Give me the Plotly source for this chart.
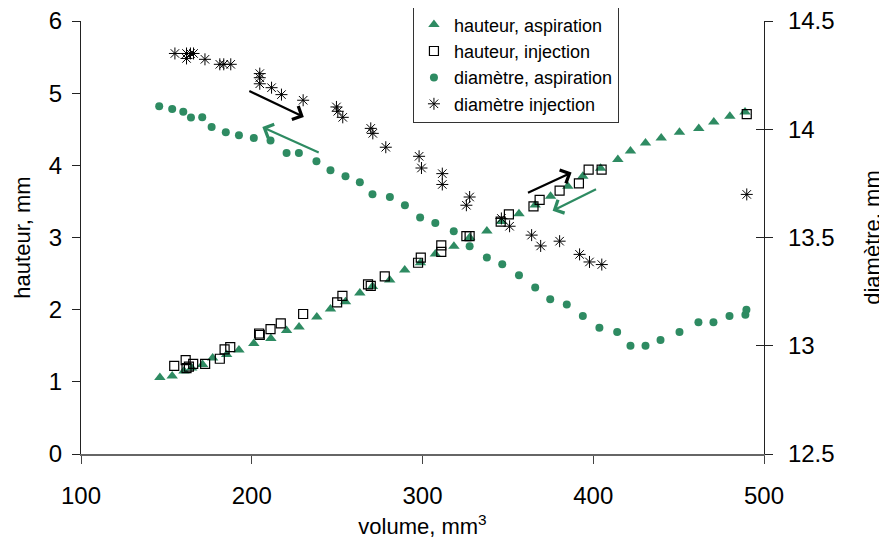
import plotly.graph_objects as go

GREEN = "#2E8B62"
FONT = "Liberation Sans, Arial, sans-serif"

# hauteur, aspiration (left axis)
h_asp_x = [146.2, 153.4, 160.3, 164.8, 171.2, 177.1, 185.3, 192.5, 201.2, 211.2,
           220.4, 227.7, 238.1, 246.1, 254.9, 263.3, 270.7, 280.8, 289.6, 298.8,
           307.5, 318.4, 327.6, 337.7, 346.2, 356.5, 366.0, 375.0, 385.1, 393.9,
           404.3, 414.4, 421.8, 430.6, 439.8, 450.5, 461.8, 470.6, 480.0, 488.9]
h_asp_y = [1.06, 1.08, 1.15, 1.19, 1.24, 1.33, 1.38, 1.44, 1.53, 1.60,
           1.71, 1.76, 1.90, 2.01, 2.11, 2.23, 2.32, 2.41, 2.55, 2.65,
           2.77, 2.88, 3.00, 3.09, 3.22, 3.33, 3.45, 3.57, 3.71, 3.85,
           3.96, 4.08, 4.20, 4.31, 4.38, 4.46, 4.51, 4.60, 4.68, 4.74]

# hauteur, injection (left axis)
h_inj_x = [154.6, 161.3, 161.8, 163.2, 165.7, 172.7, 181.3, 184.1, 187.4, 204.3,
           204.7, 211.0, 217.0, 230.1, 250.0, 253.1, 268.1, 269.7, 277.9, 297.4,
           299.0, 311.0, 311.0, 325.7, 327.6, 345.8, 350.6, 365.0, 368.6, 380.3,
           391.6, 397.3, 404.9, 489.9]
h_inj_y = [1.22, 1.30, 1.19, 1.21, 1.25, 1.25, 1.32, 1.45, 1.48, 1.67,
           1.65, 1.73, 1.81, 1.94, 2.10, 2.19, 2.35, 2.33, 2.46, 2.65,
           2.72, 2.80, 2.89, 3.02, 3.02, 3.22, 3.32, 3.43, 3.52, 3.65,
           3.75, 3.94, 3.94, 4.71]

# diamètre, aspiration (right axis)
d_asp_x = [145.8, 153.4, 159.9, 164.4, 171.0, 176.5, 184.8, 192.5, 201.2, 211.0,
           220.4, 227.6, 237.9, 246.1, 254.9, 263.3, 270.7, 280.9, 289.7, 298.6,
           307.5, 318.3, 327.6, 337.7, 346.7, 356.5, 366.0, 374.8, 384.5, 393.9,
           403.6, 414.0, 421.8, 430.6, 439.4, 450.5, 461.6, 470.4, 479.8, 489.1, 489.7]
d_asp_y = [14.106, 14.094, 14.081, 14.054, 14.055, 14.010, 13.986, 13.972, 13.960, 13.948,
           13.890, 13.890, 13.852, 13.811, 13.783, 13.755, 13.700, 13.687, 13.649, 13.592,
           13.567, 13.529, 13.460, 13.408, 13.377, 13.326, 13.269, 13.215, 13.191, 13.137,
           13.083, 13.064, 13.000, 13.000, 13.026, 13.064, 13.109, 13.109, 13.137, 13.143, 13.166]

# diamètre injection (right axis)
d_inj_x = [155.0, 161.8, 164.1, 165.9, 161.8, 172.6, 181.3, 183.6, 187.7, 204.7,
           204.7, 204.7, 211.6, 217.4, 230.1, 249.6, 250.4, 253.3, 269.7, 270.9,
           278.5, 298.0, 299.4, 311.6, 311.6, 325.7, 327.6, 346.2, 351.0, 363.9,
           369.2, 380.3, 392.0, 397.8, 405.0, 489.9]
d_inj_y = [14.350, 14.350, 14.350, 14.350, 14.327, 14.323, 14.300, 14.300, 14.300, 14.257,
           14.238, 14.210, 14.192, 14.160, 14.134, 14.103, 14.083, 14.055, 14.004, 13.981,
           13.917, 13.875, 13.821, 13.795, 13.745, 13.649, 13.687, 13.588, 13.552, 13.511,
           13.461, 13.483, 13.422, 13.387, 13.375, 13.699]

x_ticks = [100, 200, 300, 400, 500]
y_ticks = [0, 1, 2, 3, 4, 5, 6]
y2_ticks = [12.5, 13, 13.5, 14, 14.5]

# arrows: (tail_x, tail_y, head_x, head_y, colour) in volume / hauteur units
arrows = [
    (197.7, 5.04, 230.5, 4.67, "black"),
    (240.1, 4.17, 206.2, 4.53, GREEN),
    (360.9, 3.61, 387.3, 3.90, "black"),
    (402.5, 3.68, 376.2, 3.37, GREEN),
]

fig = go.Figure()
fig.add_trace(go.Scatter(x=h_asp_x, y=h_asp_y, mode="markers", name="hauteur, aspiration",
                         marker=dict(symbol="triangle-up", size=10, color=GREEN)))
fig.add_trace(go.Scatter(x=h_inj_x, y=h_inj_y, mode="markers", name="hauteur, injection",
                         marker=dict(symbol="square-open", size=9, color="black",
                                     line=dict(width=1.2, color="black"))))
fig.add_trace(go.Scatter(x=d_asp_x, y=d_asp_y, mode="markers", name="diamètre, aspiration",
                         yaxis="y2", marker=dict(symbol="circle", size=8, color=GREEN)))
fig.add_trace(go.Scatter(x=d_inj_x, y=d_inj_y, mode="markers", name="diamètre injection",
                         yaxis="y2", marker=dict(symbol="asterisk-open", size=10, color="black",
                                                 line=dict(width=1, color="black"))))
# invisible trace to make yaxis3 (inner half of the crossing ticks) exist
fig.add_trace(go.Scatter(x=[None], y=[None], yaxis="y3", showlegend=False, hoverinfo="skip"))

for tx, ty, hx, hy, c in arrows:
    fig.add_annotation(x=hx, y=hy, ax=tx, ay=ty, xref="x", yref="y", axref="x", ayref="y",
                       showarrow=True, arrowhead=4, arrowsize=1.3, arrowwidth=2.2,
                       arrowcolor=c, text="")

fig.update_layout(
    width=879, height=536,
    margin=dict(l=73, r=123, t=13, b=90, autoexpand=False),
    paper_bgcolor="white", plot_bgcolor="white",
    font=dict(family=FONT, size=24, color="black"),
    showlegend=True,
    legend=dict(x=0.486, y=1.036, xanchor="left", yanchor="top",
                bgcolor="white", bordercolor="#333333", borderwidth=1,
                font=dict(size=18, family=FONT), itemwidth=30, tracegroupgap=0),
    xaxis=dict(range=[100, 500], tickvals=x_ticks, showgrid=False, zeroline=False,
               showline=True, linecolor="#666666", linewidth=1.5,
               ticks="outside", ticklen=8, tickcolor="#444444",
               ticklabelstandoff=11, automargin=False, ticklabeloverflow="allow",
               title=dict(text="volume, mm<sup>3</sup>", standoff=11,
                          font=dict(size=22))),
    yaxis=dict(range=[0, 6], tickvals=y_ticks, showgrid=False, zeroline=False,
               showline=True, linecolor="#222222", linewidth=1.2,
               ticks="outside", ticklen=8, tickcolor="#222222",
               ticklabelstandoff=5, automargin=False, ticklabeloverflow="allow",
               title=dict(text="hauteur, mm", standoff=12, font=dict(size=22))),
    yaxis2=dict(range=[12.5, 14.5], tickvals=y2_ticks, overlaying="y", side="right",
                anchor="x", showgrid=False, zeroline=False,
                showline=True, linecolor="#222222", linewidth=1.2,
                ticks="outside", ticklen=8, tickcolor="#222222",
                ticklabelstandoff=10, automargin=False, ticklabeloverflow="allow",
                title=dict(text="diamètre, mm", standoff=30, font=dict(size=22))),
    yaxis3=dict(range=[12.5, 14.5], tickvals=y2_ticks, overlaying="y", side="right",
                anchor="x", showgrid=False, zeroline=False, showline=False,
                ticks="inside", ticklen=8, tickcolor="#222222", showticklabels=False,
                automargin=False),
)

fig.write_html("out.html")
